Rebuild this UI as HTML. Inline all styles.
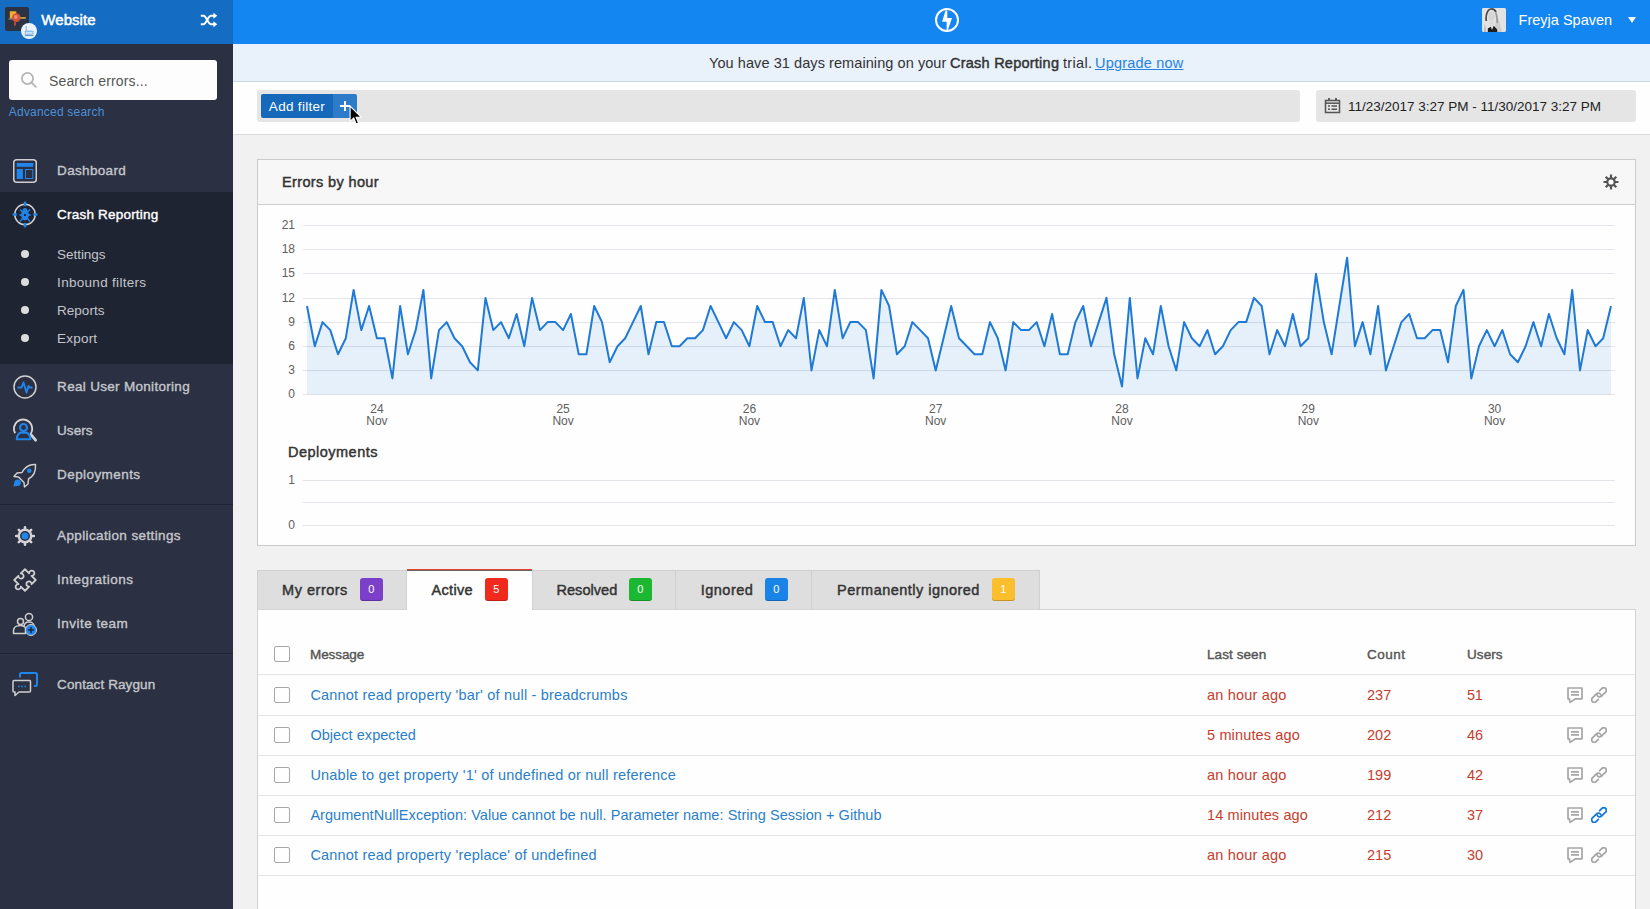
<!DOCTYPE html>
<html lang="en">
<head>
<meta charset="utf-8">
<title>Raygun - Website - Crash Reporting</title>
<style>
*{box-sizing:border-box;margin:0;padding:0}
html,body{width:1650px;height:909px;overflow:hidden}
body{font-family:"Liberation Sans",sans-serif;font-size:14px;color:#333;background:#f1f1f2;position:relative}
.abs{position:absolute}
a{text-decoration:none;color:inherit}
/* sidebar */
#side{position:absolute;left:0;top:0;width:233px;height:909px;background:#2b3042}
#sidehead{position:absolute;left:0;top:0;width:233px;height:44px;background:#146dc2}
#appicon{position:absolute;left:5px;top:7px;width:24px;height:24px;border-radius:2px;background:#2b3243;overflow:hidden}
#badge{position:absolute;left:21px;top:23px;width:16px;height:16px;border-radius:50%;background:#eaf3fb}
.appname{position:absolute;left:41px;top:10px;font-weight:normal;-webkit-text-stroke:0.5px;font-size:15px;color:#fff;line-height:20px;white-space:nowrap}
#search{position:absolute;left:9px;top:60px;width:208px;height:40px;background:#fdfdfd;border-radius:3px}
#search span{position:absolute;left:40px;top:12px;font-size:14px;line-height:18px;color:#555;white-space:nowrap}
.adv{position:absolute;left:9px;top:104px;font-size:12px;line-height:16px;color:#4a90d9;white-space:nowrap}
.mi{position:absolute;left:0;width:233px;height:44px}
.mi .t{position:absolute;left:57px;top:14px;font-size:13.5px;font-weight:normal;-webkit-text-stroke:0.38px;line-height:18px;color:#c4c6cb;white-space:nowrap}
.mi svg{position:absolute;left:12px;top:10px}
.sub{position:absolute;left:0;width:233px;height:28px}
.sub .t{position:absolute;left:57px;top:6px;font-size:13.5px;line-height:18px;color:#c3c5ca;white-space:nowrap}
.sub i{position:absolute;left:21px;top:10px;width:8px;height:8px;border-radius:50%;background:#dcdcdc}
#active{position:absolute;left:0;top:192px;width:233px;height:172px;background:#1f2433}
.sep{position:absolute;left:0;width:233px;height:2px;border-top:1px solid #1f2331;border-bottom:1px solid #2f3546}
/* top */
#top{position:absolute;left:233px;top:0;width:1417px;height:44px;background:#1486f2}
.uname{position:absolute;left:1518px;top:10px;color:#fff;font-size:14.5px;line-height:20px;white-space:nowrap}
#avatar{position:absolute;left:1482px;top:8px;width:24px;height:24px;border-radius:2px;background:#d9d9d9;overflow:hidden}
#banner{position:absolute;left:233px;top:44px;width:1417px;height:38px;background:#e9f1fb;border-bottom:1px solid #cfd6de;font-size:14.5px;line-height:39px;color:#333;white-space:nowrap}
#banner span{position:absolute;top:0}
#banner .bb{font-weight:normal;-webkit-text-stroke:0.45px}
#banner .bu{color:#2583dd;text-decoration:underline}
#fbar{position:absolute;left:233px;top:82px;width:1417px;height:53px;background:#fefefe;border-bottom:1px solid #dcdcdc}
#fbox{position:absolute;left:257px;top:90px;width:1043px;height:32px;background:#e5e5e5;border-radius:3px}
#addf{position:absolute;left:261px;top:94px;width:72px;height:24px;background:#1568ba;border-radius:2px 0 0 2px;color:#fff;font-size:13.5px;line-height:25px;text-align:center;white-space:nowrap}
#addp{position:absolute;left:333px;top:94px;width:24px;height:24px;background:#2c7cc9;border-radius:0 2px 2px 0}
#dbox{position:absolute;left:1316px;top:90px;width:320px;height:32px;background:#e5e5e5;border-radius:3px}
#dbox span{position:absolute;left:32px;top:8px;font-size:13.5px;line-height:18px;color:#222;white-space:nowrap}
/* panel */
#panel{position:absolute;left:257px;top:159px;width:1379px;height:387px;background:#fefefe;border:1px solid #cbcbcb}
#phead{position:absolute;left:0;top:0;width:1377px;height:45px;background:#f7f7f7;border-bottom:1px solid #cdcdcd}
#phead span{position:absolute;left:24px;top:13px;font-size:14.5px;font-weight:normal;-webkit-text-stroke:0.45px;line-height:18px;color:#333;white-space:nowrap}
.dep{position:absolute;left:288px;top:443px;font-size:14.5px;font-weight:normal;-webkit-text-stroke:0.45px;line-height:18px;color:#333;white-space:nowrap}
svg.chart{position:absolute;left:0;top:0;pointer-events:none}
.ax{font-family:"Liberation Sans",sans-serif;font-size:12px;fill:#606060}
/* tabs */
.tab{position:absolute;top:570px;height:40px;background:#dedede;border:1px solid #d0d0d0;border-left:none}
.tab .t{position:absolute;left:24px;top:10px;font-size:14.5px;font-weight:normal;-webkit-text-stroke:0.45px;line-height:18px;color:#333;white-space:nowrap}
.tab .b{position:absolute;top:7px;width:22.500px;height:23px;box-shadow:inset 0 -1px 0 rgba(0,0,0,.22);border-radius:3px;color:#fff;font-size:11px;line-height:23px;text-align:center}
#tabact{background:#fefefe;top:569px;height:41px;border-top:1px solid #e8432e;box-shadow:inset 0 1px 0 #666;border-bottom:none;border-right:none}
/* table */
#tbl{position:absolute;left:257px;top:609px;width:1379px;height:320px;background:#fefefe;border:1px solid #d3d3d3;border-top:1px solid #d3d3d3}
.hr{position:absolute;left:258px;width:1377px;height:1px;background:#e4e4e4}
.cb{position:absolute;left:274px;width:16px;height:16px;border:1.5px solid #a8a8a8;border-radius:2px;background:#fff}
.th{position:absolute;top:646px;font-size:13.5px;font-weight:normal;-webkit-text-stroke:0.4px;line-height:18px;color:#555;white-space:nowrap}
.msg{position:absolute;left:310px;font-size:14.5px;line-height:18px;color:#2b7ec9;white-space:nowrap}
.red{position:absolute;font-size:14.5px;line-height:18px;color:#c63d2d;white-space:nowrap}
.ic{position:absolute}
#tx1{letter-spacing:0.054px;left:41.3px}
#tx2{letter-spacing:0.151px;left:40.3px}
#tx3{letter-spacing:0.204px;left:8.8px}
#tx4{letter-spacing:0.328px;left:57.1px}
#tx5{letter-spacing:0.200px;left:57.1px}
#tx6{letter-spacing:-0.048px;left:57.1px}
#tx7{letter-spacing:0.299px;left:57.1px}
#tx8{letter-spacing:0.003px;left:57.1px}
#tx9{letter-spacing:0.195px;left:57.1px}
#tx10{letter-spacing:0.304px;left:57.1px}
#tx11{letter-spacing:0.027px;left:57.1px}
#tx12{letter-spacing:0.418px;left:57.1px}
#tx13{letter-spacing:0.374px;left:57.1px}
#tx14{letter-spacing:0.479px;left:57.1px}
#tx15{letter-spacing:0.470px;left:57.1px}
#tx16{letter-spacing:0.099px;left:57.1px}
#tx17{letter-spacing:0.000px;left:1518.6px}
#tx18{letter-spacing:0.075px;left:476.3px}
#tx19{letter-spacing:0.241px;left:717.3px}
#tx20{letter-spacing:0.316px;left:830.1px}
#tx21{letter-spacing:0.195px;left:862.6px}
#tx22{letter-spacing:0.302px}
#tx23{letter-spacing:-0.005px;left:32.4px}
#tx24{letter-spacing:0.366px;left:24.3px}
#tx25{letter-spacing:0.470px;left:288.1px}
#tx26{letter-spacing:0.507px;left:24.1px}
#tx27{letter-spacing:0.317px;left:24.5px}
#tx28{letter-spacing:0.043px;left:23.5px}
#tx29{letter-spacing:0.473px;left:24.8px}
#tx30{letter-spacing:0.473px;left:25.1px}
#tx31{letter-spacing:-0.083px;left:310.4px}
#tx32{letter-spacing:0.084px;left:1206.8px}
#tx33{letter-spacing:0.514px;left:1366.8px}
#tx34{letter-spacing:0.087px;left:1466.9px}
#tx35{letter-spacing:0.196px;left:310.4px}
#tx36{letter-spacing:0.181px;left:1206.8px}
#tx37{letter-spacing:0.032px;left:1366.8px}
#tx38{letter-spacing:-0.370px;left:1466.8px}
#tx39{letter-spacing:0.054px;left:310.4px}
#tx40{letter-spacing:0.147px;left:1206.8px}
#tx41{letter-spacing:0.032px;left:1366.8px}
#tx42{letter-spacing:-0.170px;left:1466.8px}
#tx43{letter-spacing:0.209px;left:310.4px}
#tx44{letter-spacing:0.181px;left:1206.8px}
#tx45{letter-spacing:0.032px;left:1366.8px}
#tx46{letter-spacing:-0.170px;left:1466.8px}
#tx47{letter-spacing:0.053px;left:310.4px}
#tx48{letter-spacing:0.132px;left:1206.8px}
#tx49{letter-spacing:0.032px;left:1366.8px}
#tx50{letter-spacing:-0.170px;left:1466.8px}
#tx51{letter-spacing:0.193px;left:310.4px}
#tx52{letter-spacing:0.181px;left:1206.8px}
#tx53{letter-spacing:0.032px;left:1366.8px}
#tx54{letter-spacing:-0.170px;left:1466.8px}

</style>
</head>
<body>

<!-- ============ SIDEBAR ============ -->
<div id="side">
  <div id="sidehead">
    <div id="appicon">
      <svg width="24" height="24" viewBox="0 0 24 24"><rect x="4.800" y="4.300" width="6.500" height="7" fill="#f0b32e"/><circle cx="11.300" cy="10.600" r="4.300" fill="#d5523b"/><circle cx="10.800" cy="10" r="1.900" fill="#e98d74"/><rect x="15.300" y="10.200" width="5.500" height="1.500" fill="#e3b24a"/><rect x="9" y="14.600" width="1.900" height="4" fill="#c4473a"/><rect x="3.500" y="11.500" width="4" height="1" fill="#d9c9a0" opacity=".7"/></svg>
    </div>
    <div id="badge">
      <svg width="16" height="16" viewBox="0 0 16 16"><path d="M5.200 3v5.200h5.800" fill="none" stroke="#7db4e6" stroke-width="1"/><rect x="4.200" y="8.300" width="7.800" height="3" fill="#cfe3f6" stroke="#7db4e6" stroke-width=".900"/><path d="M3.800 12.600h8.600" stroke="#4a90d9" stroke-width="1"/></svg>
    </div>
    <div id="tx1" class="fitme appname">Website</div>
    <svg class="abs" style="left:200px;top:12px" width="18" height="16" viewBox="0 0 18 16"><g fill="none" stroke="#fff" stroke-width="2"><path d="M0.800 3.800h2.800c2.600 0 4.400 8.400 7.400 8.400h3.400"/><path d="M0.800 12.200h2.800c2.600 0 4.400-8.400 7.400-8.400h3.400"/></g><path d="M13.400 0.800l3.900 3-3.900 3zM13.400 9.200l3.900 3-3.900 3z" fill="#fff"/></svg>
  </div>

  <div id="search">
    <svg class="abs" style="left:11px;top:11px" width="18" height="18" viewBox="0 0 18 18"><circle cx="7.5" cy="7.5" r="5.6" fill="none" stroke="#b5b5b5" stroke-width="1.8"/><path d="M11.6 11.6l4.2 4.2" stroke="#b5b5b5" stroke-width="1.8" stroke-linecap="round"/></svg>
    <span id="tx2" class="fitme">Search errors...</span>
  </div>
  <div id="tx3" class="fitme adv">Advanced search</div>

  <div id="active"></div>

  <div class="mi" style="top:148px">
    <svg width="26" height="26" viewBox="0 0 26 26"><rect x="1.75" y="1.75" width="22.5" height="22.5" rx="3" fill="none" stroke="#cfcfcf" stroke-width="1.5"/><rect x="4.7" y="5" width="16.6" height="3.8" fill="#2186eb"/><rect x="4.7" y="11" width="6.2" height="10" fill="#2186eb"/><rect x="13.5" y="11.5" width="7.3" height="9" fill="none" stroke="#2186eb" stroke-width="1"/></svg>
    <div id="tx4" class="t">Dashboard</div>
  </div>

  <div class="mi" style="top:192px">
    <svg width="28" height="28" viewBox="0 0 28 28" style="left:11px;top:8px"><circle cx="14" cy="14.5" r="10.2" fill="none" stroke="#cfcfcf" stroke-width="1.5"/><g fill="#2186eb"><rect x="12.8" y="1.6" width="2.4" height="4.6"/><rect x="12.8" y="22.8" width="2.4" height="4.6"/><rect x="1.6" y="13.3" width="4.2" height="2.4"/><rect x="22.2" y="13.3" width="4.2" height="2.4"/><ellipse cx="14" cy="15" rx="3.800" ry="5.400"/><circle cx="14" cy="10.300" r="2.300"/><path d="M9 9.500l2.500 2.500M19 9.500l-2.500 2.500M8.300 15h3.500M19.700 15h-3.500M9 21.500l2.500-3M19 21.500l-2.500-3" stroke="#2186eb" stroke-width="1.500"/></g><circle cx="14" cy="15" r="1.2" fill="#1f2433"/></svg>
    <div id="tx5" class="t" style="color:#fff">Crash Reporting</div>
  </div>

  <div class="sub" style="top:240px"><i></i><div id="tx6" class="t">Settings</div></div>
  <div class="sub" style="top:268px"><i></i><div id="tx7" class="t">Inbound filters</div></div>
  <div class="sub" style="top:296px"><i></i><div id="tx8" class="t">Reports</div></div>
  <div class="sub" style="top:324px"><i></i><div id="tx9" class="t">Export</div></div>

  <div class="mi" style="top:364px">
    <svg width="26" height="26" viewBox="0 0 26 26" style="left:12px;top:10px"><circle cx="13" cy="13" r="11" fill="none" stroke="#cfcfcf" stroke-width="1.5"/><path d="M5.5 13.5h4l2-5 3 10 2-6.5 1 1.500h3" fill="none" stroke="#2186eb" stroke-width="1.900" stroke-linejoin="round"/></svg>
    <div id="tx10" class="t">Real User Monitoring</div>
  </div>

  <div class="mi" style="top:408px">
    <svg width="28" height="28" viewBox="0 0 28 28" style="left:11px;top:10px"><path d="M4.080 15.300A9.200 9.200 0 1 1 19.600 16" fill="none" stroke="#d2d2d2" stroke-width="1.900"/><path d="M20.200 16.800l4.400 5.400" stroke="#d2d2d2" stroke-width="2.800" stroke-linecap="round"/><circle cx="12.500" cy="9.500" r="3.500" fill="none" stroke="#2186eb" stroke-width="2.100"/><path d="M5.700 21.200c0-4.300 2.600-6.600 4.600-6.600h4.500c2 0 4.600 2.300 4.600 6.600z" fill="none" stroke="#2186eb" stroke-width="2.100" stroke-linejoin="round"/></svg>
    <div id="tx11" class="t">Users</div>
  </div>

  <div class="mi" style="top:452px">
    <svg width="26" height="26" viewBox="0 0 26 26" style="left:12px;top:10px"><path d="M23.500 2.500c-6-.5-10.500 2.500-13.500 8l-5 .5-3 3.500 4.500.5 5.500 5.500.5 4.500 3.500-3 .5-5c5.500-3 7.500-8.500 7-14.500z" fill="none" stroke="#cfcfcf" stroke-width="1.5" stroke-linejoin="round"/><circle cx="17.300" cy="8.700" r="2.300" fill="#2186eb"/><path d="M1.300 24.600l1.300-5.300c1.200-2.200 4-2.400 5.400-.800 1.500 1.500 1.300 4.200-.900 5.200z" fill="#2186eb"/></svg>
    <div id="tx12" class="t">Deployments</div>
  </div>

  <div class="sep" style="top:504px"></div>

  <div class="mi" style="top:513px">
    <svg width="24" height="24" viewBox="-12 -12 24 24" style="left:13px;top:11px"><g stroke="#d4d4d4" stroke-width="2.600" stroke-linecap="round"><path d="M0-8.800V8.800M-8.800 0H8.800M-6.200-6.200L6.200 6.200M6.200-6.200L-6.200 6.200"/></g><circle r="6.200" fill="#2b3042" stroke="#d4d4d4" stroke-width="2.400"/><circle r="3.500" fill="#2186eb"/></svg>
    <div id="tx13" class="t">Application settings</div>
  </div>

  <div class="mi" style="top:557px">
    <svg width="28" height="28" viewBox="-14 -14 28 28" style="left:11px;top:9px"><path transform="rotate(45)" d="M-7.6,-7.6 H-1.7 A2.6,2.6 0 1 1 1.7,-7.6 H7.6 V-1.7 A2.6,2.6 0 1 0 7.6,1.7 V7.6 H1.7 A2.6,2.6 0 1 1 -1.7,7.6 H-7.6 V1.7 A2.6,2.6 0 1 0 -7.6,-1.7 Z" fill="none" stroke="#d0d0d0" stroke-width="1.800" stroke-linejoin="round"/></svg>
    <div id="tx14" class="t">Integrations</div>
  </div>

  <div class="mi" style="top:601px">
    <svg width="28" height="28" viewBox="0 0 28 28" style="left:11px;top:8px"><circle cx="18" cy="8" r="3.600" fill="none" stroke="#cfcfcf" stroke-width="1.500"/><path d="M13 22v-4c0-3 2-5 5-5s5 2 5 4" fill="none" stroke="#cfcfcf" stroke-width="1.500"/><circle cx="9.500" cy="12.500" r="3" fill="#2b3042" stroke="#cfcfcf" stroke-width="1.500"/><path d="M2.500 24.500v-3c0-3 3-5 7-5 2 0 4 1 5 2v6z" fill="#2b3042" stroke="#cfcfcf" stroke-width="1.500" stroke-linejoin="round"/><circle cx="20" cy="21" r="5.500" fill="#2186eb" stroke="#cfcfcf" stroke-width="1"/><path d="M20 18v6M17 21h6" stroke="#1f2433" stroke-width="1.500"/></svg>
    <div id="tx15" class="t">Invite team</div>
  </div>

  <div class="sep" style="top:653px"></div>

  <div class="mi" style="top:662px">
    <svg width="28" height="28" viewBox="0 0 28 28" style="left:11px;top:8px"><path d="M9 7.500v-3c0-1 .500-1.500 1.500-1.500h14c1 0 1.500.500 1.500 1.500v10c0 1-.500 1.500-1.500 1.500h-1.500" fill="none" stroke="#2186eb" stroke-width="2"/><path d="M3 10.500h15.500c.800 0 1 .500 1 1v9.500c0 .800-.500 1-1 1h-10.500l-4 3.500v-3.500h-1c-.800 0-1-.500-1-1v-9.500c0-.800.500-1 1-1z" fill="none" stroke="#cfcfcf" stroke-width="1.500" stroke-linejoin="round"/><path d="M7 16.500h1.600M10.200 16.500h1.600M13.400 16.500h1.600" stroke="#2186eb" stroke-width="1.600"/></svg>
    <div id="tx16" class="t">Contact Raygun</div>
  </div>
</div>

<!-- ============ TOP BAR ============ -->
<div id="top"></div>
<svg class="abs" style="left:934px;top:7px" width="26" height="26" viewBox="-13 -13 26 26"><circle r="11" fill="none" stroke="#fff" stroke-width="2"/><path d="M-1.500-9.600L0.300-9.600L0.300-1.900L5-1.900L0.800 10.200L-0.400 10.200L-0.400 1.800L-4.900 1.800Z" fill="#fff"/></svg>
<div id="avatar"><svg width="24" height="24" viewBox="0 0 24 24"><rect width="24" height="24" fill="#e4e3e3"/><path d="M15 6l5 18h-8z" fill="#cfcfcf"/><path d="M4.300 13c-.800-6 1-11.500 4.500-12 2.500-.300 4.300 1 5.200 3.200" fill="none" stroke="#4a4a4a" stroke-width="1.700"/><ellipse cx="9.400" cy="8.300" rx="3.300" ry="4.800" fill="#d6d6d6"/><path d="M13.800 4.500c1.200 3 1 6.500 1.700 10.500" fill="none" stroke="#9b9b9b" stroke-width="1.800"/><path d="M8 12.500h3.500l.5 6-4 1z" fill="#dcdcdc"/><path d="M5.800 24v-3.500l3-1.800 1.200 3.300 1.700-4.300 3.500 3.800v2.500z" fill="#1d1d1f"/><path d="M2.500 16c1 2 1.500 5 1.500 8h-2z" fill="#b9b9b9"/></svg></div>
<div id="tx17" class="fitme uname">Freyja Spaven</div>
<svg class="abs" style="left:1628px;top:17px" width="8" height="6" viewBox="0 0 8 6"><path d="M0 0h8l-4 6z" fill="#f4f9ff"/></svg>

<div id="banner"><span id="tx18" class="fitme" style="left:476px">You have 31 days remaining on your</span><span id="tx19" class="fitme bb" style="left:717px">Crash Reporting</span><span id="tx20" class="fitme" style="left:830px">trial.</span><span id="tx21" class="fitme bu" style="left:862px">Upgrade now</span></div>

<div id="fbar"></div>
<div id="fbox"></div>
<div id="addf"><span id="tx22" class="fitme">Add filter</span></div>
<div id="addp"><svg class="abs" style="left:6px;top:6px" width="12" height="12" viewBox="0 0 12 12"><path d="M6 1v10M1 6h10" stroke="#fff" stroke-width="2"/></svg></div>
<svg class="abs" style="left:348.500px;top:105px" width="13.200" height="20.900" viewBox="0 0 12 19"><path d="M1 1v14l3.300-3.200 2.200 5.400 2.200-.900-2.200-5.200h4.500z" fill="#000" stroke="#fff" stroke-width="1"/></svg>
<div id="dbox">
  <svg class="abs" style="left:8px;top:7px" width="17" height="17" viewBox="0 0 17 17"><path d="M1.500 3.500h14v12h-14z" fill="none" stroke="#555" stroke-width="1.500"/><path d="M1.500 6.200h14" stroke="#555" stroke-width="1.500"/><path d="M5 1v3M12 1v3" stroke="#555" stroke-width="1.800"/><path d="M4 9h2M7.500 9h5.500M4 12.300h2M7.500 12.300h5.500" stroke="#555" stroke-width="1.400"/></svg>
  <span id="tx23" class="fitme">11/23/2017 3:27 PM - 11/30/2017 3:27 PM</span>
</div>

<!-- ============ CHART PANEL ============ -->
<div id="panel">
  <div id="phead"><span id="tx24" class="fitme">Errors by hour</span></div>
</div>
<svg class="abs" style="left:1603px;top:174px" width="16" height="16" viewBox="0 0 16 16"><g stroke="#555" stroke-width="2.200"><path d="M8 0.500v15M0.500 8h15M2.700 2.700l10.600 10.600M13.300 2.700L2.700 13.300"/></g><circle cx="8" cy="8" r="4.800" fill="#555"/><circle cx="8" cy="8" r="2.600" fill="#fefefe"/></svg>
<div id="tx25" class="fitme dep">Deployments</div>
<svg class="chart" width="1650" height="909" viewBox="0 0 1650 909">
<line x1="303" x2="1615" y1="225.5" y2="225.5" stroke="#e3e5ea" stroke-width="1"/>
<text x="295" y="229.2" text-anchor="end" class="ax">21</text>
<line x1="303" x2="1615" y1="249.5" y2="249.5" stroke="#e3e5ea" stroke-width="1"/>
<text x="295" y="253.2" text-anchor="end" class="ax">18</text>
<line x1="303" x2="1615" y1="273.5" y2="273.5" stroke="#e3e5ea" stroke-width="1"/>
<text x="295" y="277.2" text-anchor="end" class="ax">15</text>
<line x1="303" x2="1615" y1="298.5" y2="298.5" stroke="#e3e5ea" stroke-width="1"/>
<text x="295" y="302.2" text-anchor="end" class="ax">12</text>
<line x1="303" x2="1615" y1="322.5" y2="322.5" stroke="#e3e5ea" stroke-width="1"/>
<text x="295" y="326.2" text-anchor="end" class="ax">9</text>
<line x1="303" x2="1615" y1="346.5" y2="346.5" stroke="#e3e5ea" stroke-width="1"/>
<text x="295" y="350.2" text-anchor="end" class="ax">6</text>
<line x1="303" x2="1615" y1="370.5" y2="370.5" stroke="#e3e5ea" stroke-width="1"/>
<text x="295" y="374.2" text-anchor="end" class="ax">3</text>
<line x1="303" x2="1615" y1="394.5" y2="394.5" stroke="#e3e5ea" stroke-width="1"/>
<text x="295" y="398.2" text-anchor="end" class="ax">0</text>

<path d="M307.0,394.5 L307.0,306.0 L314.8,346.2 L322.5,322.1 L330.3,330.1 L338.0,354.3 L345.8,338.2 L353.6,289.9 L361.3,330.1 L369.1,306.0 L376.9,338.2 L384.6,338.2 L392.4,378.4 L400.1,306.0 L407.9,354.3 L415.7,330.1 L423.4,289.9 L431.2,378.4 L439.0,330.1 L446.7,322.1 L454.5,338.2 L462.2,346.2 L470.0,362.3 L477.8,370.4 L485.5,297.9 L493.3,330.1 L501.0,322.1 L508.8,338.2 L516.6,314.0 L524.3,346.2 L532.1,297.9 L539.9,330.1 L547.6,322.1 L555.4,322.1 L563.1,330.1 L570.9,314.0 L578.7,354.3 L586.4,354.3 L594.2,306.0 L602.0,322.1 L609.7,362.3 L617.5,346.2 L625.2,338.2 L633.0,322.1 L640.8,306.0 L648.5,354.3 L656.3,322.1 L664.0,322.1 L671.8,346.2 L679.6,346.2 L687.3,338.2 L695.1,338.2 L702.9,330.1 L710.6,306.0 L718.4,322.1 L726.1,338.2 L733.9,322.1 L741.7,330.1 L749.4,346.2 L757.2,306.0 L765.0,322.1 L772.7,322.1 L780.5,346.2 L788.2,330.1 L796.0,338.2 L803.8,297.9 L811.5,370.4 L819.3,330.1 L827.0,346.2 L834.8,289.9 L842.6,338.2 L850.3,322.1 L858.1,322.1 L865.9,330.1 L873.6,378.4 L881.4,289.9 L889.1,306.0 L896.9,354.3 L904.7,346.2 L912.4,322.1 L920.2,330.1 L928.0,338.2 L935.7,370.4 L943.5,338.2 L951.2,306.0 L959.0,338.2 L966.8,346.2 L974.5,354.3 L982.3,354.3 L990.0,322.1 L997.8,338.2 L1005.6,370.4 L1013.3,322.1 L1021.1,330.1 L1028.9,330.1 L1036.6,322.1 L1044.4,346.2 L1052.1,314.0 L1059.9,354.3 L1067.7,354.3 L1075.4,322.1 L1083.2,306.0 L1091.0,346.2 L1098.7,322.1 L1106.5,297.9 L1114.2,354.3 L1122.0,386.5 L1129.8,297.9 L1137.5,378.4 L1145.3,338.2 L1153.0,354.3 L1160.8,306.0 L1168.6,346.2 L1176.3,370.4 L1184.1,322.1 L1191.9,338.2 L1199.6,346.2 L1207.4,330.1 L1215.1,354.3 L1222.9,346.2 L1230.7,330.1 L1238.4,322.1 L1246.2,322.1 L1254.0,297.9 L1261.7,306.0 L1269.5,354.3 L1277.2,330.1 L1285.0,346.2 L1292.8,314.0 L1300.5,346.2 L1308.3,338.2 L1316.0,273.8 L1323.8,322.1 L1331.6,354.3 L1339.3,306.0 L1347.1,257.7 L1354.9,346.2 L1362.6,322.1 L1370.4,354.3 L1378.1,306.0 L1385.9,370.4 L1393.7,346.2 L1401.4,322.1 L1409.2,314.0 L1417.0,338.2 L1424.7,338.2 L1432.5,330.1 L1440.2,330.1 L1448.0,362.3 L1455.8,306.0 L1463.5,289.9 L1471.3,378.4 L1479.0,346.2 L1486.8,330.1 L1494.6,346.2 L1502.3,330.1 L1510.1,354.3 L1517.9,362.3 L1525.6,346.2 L1533.4,322.1 L1541.1,346.2 L1548.9,314.0 L1556.7,338.2 L1564.4,354.3 L1572.2,289.9 L1580.0,370.4 L1587.7,330.1 L1595.5,346.2 L1603.2,338.2 L1611.0,306.0 L1611.0,394.5 Z" fill="#1f7ad6" fill-opacity="0.105"/>
<polyline points="307.0,306.0 314.8,346.2 322.5,322.1 330.3,330.1 338.0,354.3 345.8,338.2 353.6,289.9 361.3,330.1 369.1,306.0 376.9,338.2 384.6,338.2 392.4,378.4 400.1,306.0 407.9,354.3 415.7,330.1 423.4,289.9 431.2,378.4 439.0,330.1 446.7,322.1 454.5,338.2 462.2,346.2 470.0,362.3 477.8,370.4 485.5,297.9 493.3,330.1 501.0,322.1 508.8,338.2 516.6,314.0 524.3,346.2 532.1,297.9 539.9,330.1 547.6,322.1 555.4,322.1 563.1,330.1 570.9,314.0 578.7,354.3 586.4,354.3 594.2,306.0 602.0,322.1 609.7,362.3 617.5,346.2 625.2,338.2 633.0,322.1 640.8,306.0 648.5,354.3 656.3,322.1 664.0,322.1 671.8,346.2 679.6,346.2 687.3,338.2 695.1,338.2 702.9,330.1 710.6,306.0 718.4,322.1 726.1,338.2 733.9,322.1 741.7,330.1 749.4,346.2 757.2,306.0 765.0,322.1 772.7,322.1 780.5,346.2 788.2,330.1 796.0,338.2 803.8,297.9 811.5,370.4 819.3,330.1 827.0,346.2 834.8,289.9 842.6,338.2 850.3,322.1 858.1,322.1 865.9,330.1 873.6,378.4 881.4,289.9 889.1,306.0 896.9,354.3 904.7,346.2 912.4,322.1 920.2,330.1 928.0,338.2 935.7,370.4 943.5,338.2 951.2,306.0 959.0,338.2 966.8,346.2 974.5,354.3 982.3,354.3 990.0,322.1 997.8,338.2 1005.6,370.4 1013.3,322.1 1021.1,330.1 1028.9,330.1 1036.6,322.1 1044.4,346.2 1052.1,314.0 1059.9,354.3 1067.7,354.3 1075.4,322.1 1083.2,306.0 1091.0,346.2 1098.7,322.1 1106.5,297.9 1114.2,354.3 1122.0,386.5 1129.8,297.9 1137.5,378.4 1145.3,338.2 1153.0,354.3 1160.8,306.0 1168.6,346.2 1176.3,370.4 1184.1,322.1 1191.9,338.2 1199.6,346.2 1207.4,330.1 1215.1,354.3 1222.9,346.2 1230.7,330.1 1238.4,322.1 1246.2,322.1 1254.0,297.9 1261.7,306.0 1269.5,354.3 1277.2,330.1 1285.0,346.2 1292.8,314.0 1300.5,346.2 1308.3,338.2 1316.0,273.8 1323.8,322.1 1331.6,354.3 1339.3,306.0 1347.1,257.7 1354.9,346.2 1362.6,322.1 1370.4,354.3 1378.1,306.0 1385.9,370.4 1393.7,346.2 1401.4,322.1 1409.2,314.0 1417.0,338.2 1424.7,338.2 1432.5,330.1 1440.2,330.1 1448.0,362.3 1455.8,306.0 1463.5,289.9 1471.3,378.4 1479.0,346.2 1486.8,330.1 1494.6,346.2 1502.3,330.1 1510.1,354.3 1517.9,362.3 1525.6,346.2 1533.4,322.1 1541.1,346.2 1548.9,314.0 1556.7,338.2 1564.4,354.3 1572.2,289.9 1580.0,370.4 1587.7,330.1 1595.5,346.2 1603.2,338.2 1611.0,306.0" fill="none" stroke="#1f7ad6" stroke-width="2" stroke-linejoin="round"/>
<text x="376.9" y="413" text-anchor="middle" class="ax">24</text><text x="376.9" y="424.500" text-anchor="middle" class="ax">Nov</text>
<text x="563.1" y="413" text-anchor="middle" class="ax">25</text><text x="563.1" y="424.500" text-anchor="middle" class="ax">Nov</text>
<text x="749.4" y="413" text-anchor="middle" class="ax">26</text><text x="749.4" y="424.500" text-anchor="middle" class="ax">Nov</text>
<text x="935.7" y="413" text-anchor="middle" class="ax">27</text><text x="935.7" y="424.500" text-anchor="middle" class="ax">Nov</text>
<text x="1122.0" y="413" text-anchor="middle" class="ax">28</text><text x="1122.0" y="424.500" text-anchor="middle" class="ax">Nov</text>
<text x="1308.3" y="413" text-anchor="middle" class="ax">29</text><text x="1308.3" y="424.500" text-anchor="middle" class="ax">Nov</text>
<text x="1494.6" y="413" text-anchor="middle" class="ax">30</text><text x="1494.6" y="424.500" text-anchor="middle" class="ax">Nov</text>

<line x1="303" x2="1615" y1="480.5" y2="480.5" stroke="#e3e5ea"/>
<line x1="303" x2="1615" y1="502.5" y2="502.5" stroke="#e3e5ea"/>
<line x1="303" x2="1615" y1="525.5" y2="525.5" stroke="#e3e5ea"/>
<text x="295" y="484" text-anchor="end" class="ax">1</text>
<text x="295" y="529" text-anchor="end" class="ax">0</text>
</svg>

<!-- ============ TABS ============ -->
<div class="tab" style="left:257px;width:150px;border-left:1px solid #d0d0d0"><span id="tx26" class="t">My errors</span><span class="b" style="left:102px;background:#7b3fc9">0</span></div>
<div class="tab" id="tabact" style="left:407px;width:125px"><span id="tx27" class="t" style="top:11px">Active</span><span class="b" style="left:78px;top:8px;background:#f02b1d">5</span></div>
<div class="tab" style="left:532px;width:144px;border-left:1px solid #d0d0d0"><span id="tx28" class="t">Resolved</span><span class="b" style="left:96px;background:#1db832">0</span></div>
<div class="tab" style="left:676px;width:136px"><span id="tx29" class="t">Ignored</span><span class="b" style="left:89px;background:#1a83e8">0</span></div>
<div class="tab" style="left:812px;width:228px"><span id="tx30" class="t">Permanently ignored</span><span class="b" style="left:180px;background:#fbbf2d">1</span></div>

<!-- ============ TABLE ============ -->
<div id="tbl"></div>
<div class="abs" style="left:407px;top:609px;width:125px;height:1px;background:#fefefe"></div>

<div class="cb" style="top:646px"></div>
<div id="tx31" class="th" style="left:310px">Message</div>
<div id="tx32" class="th" style="left:1207px">Last seen</div>
<div id="tx33" class="th" style="left:1367px">Count</div>
<div id="tx34" class="th" style="left:1467px">Users</div>
<div class="hr" style="top:674px"></div>

<div class="cb" style="top:687px"></div>
<div id="tx35" class="msg" style="top:686px">Cannot read property 'bar' of null - breadcrumbs</div>
<div id="tx36" class="red" style="left:1207px;top:686px">an hour ago</div>
<div id="tx37" class="red" style="left:1367px;top:686px">237</div>
<div id="tx38" class="red" style="left:1467px;top:686px">51</div>
<div class="hr" style="top:715px"></div>

<div class="cb" style="top:727px"></div>
<div id="tx39" class="msg" style="top:726px">Object expected</div>
<div id="tx40" class="red" style="left:1207px;top:726px">5 minutes ago</div>
<div id="tx41" class="red" style="left:1367px;top:726px">202</div>
<div id="tx42" class="red" style="left:1467px;top:726px">46</div>
<div class="hr" style="top:755px"></div>

<div class="cb" style="top:767px"></div>
<div id="tx43" class="msg" style="top:766px">Unable to get property '1' of undefined or null reference</div>
<div id="tx44" class="red" style="left:1207px;top:766px">an hour ago</div>
<div id="tx45" class="red" style="left:1367px;top:766px">199</div>
<div id="tx46" class="red" style="left:1467px;top:766px">42</div>
<div class="hr" style="top:795px"></div>

<div class="cb" style="top:807px"></div>
<div id="tx47" class="msg" style="top:806px">ArgumentNullException: Value cannot be null. Parameter name: String Session + Github</div>
<div id="tx48" class="red" style="left:1207px;top:806px">14 minutes ago</div>
<div id="tx49" class="red" style="left:1367px;top:806px">212</div>
<div id="tx50" class="red" style="left:1467px;top:806px">37</div>
<div class="hr" style="top:835px"></div>

<div class="cb" style="top:847px"></div>
<div id="tx51" class="msg" style="top:846px">Cannot read property 'replace' of undefined</div>
<div id="tx52" class="red" style="left:1207px;top:846px">an hour ago</div>
<div id="tx53" class="red" style="left:1367px;top:846px">215</div>
<div id="tx54" class="red" style="left:1467px;top:846px">30</div>
<div class="hr" style="top:875px"></div>

<!-- row icons -->
<svg class="ic" style="left:1566px;top:686px" width="18" height="18" viewBox="0 0 18 18"><path d="M2 2H16V12.800H9.500L4 16.400L3.400 12.800H2Z" fill="none" stroke="#a6a6a6" stroke-width="1.700" stroke-linejoin="round"/><path d="M5 5.900h8M5 8.900h8" stroke="#a6a6a6" stroke-width="1.700"/></svg><svg class="ic" style="left:1591px;top:687px" width="16" height="16" viewBox="0 0 16 16"><g fill="none" stroke="#a6a6a6" stroke-width="1.800" stroke-linecap="round"><path d="M0.3,2.55 H-2.9 A2.55,2.55 0 0 1 -2.9,-2.55 H2.9 A2.55,2.55 0 0 1 5.21,1.08" transform="translate(5.300 10.700) rotate(-45)"/><path d="M0.3,2.55 H-2.9 A2.55,2.55 0 0 1 -2.9,-2.55 H2.9 A2.55,2.55 0 0 1 5.21,1.08" transform="translate(10.700 5.300) rotate(135)"/></g></svg>
<svg class="ic" style="left:1566px;top:726px" width="18" height="18" viewBox="0 0 18 18"><path d="M2 2H16V12.800H9.500L4 16.400L3.400 12.800H2Z" fill="none" stroke="#a6a6a6" stroke-width="1.700" stroke-linejoin="round"/><path d="M5 5.900h8M5 8.900h8" stroke="#a6a6a6" stroke-width="1.700"/></svg><svg class="ic" style="left:1591px;top:727px" width="16" height="16" viewBox="0 0 16 16"><g fill="none" stroke="#a6a6a6" stroke-width="1.800" stroke-linecap="round"><path d="M0.3,2.55 H-2.9 A2.55,2.55 0 0 1 -2.9,-2.55 H2.9 A2.55,2.55 0 0 1 5.21,1.08" transform="translate(5.300 10.700) rotate(-45)"/><path d="M0.3,2.55 H-2.9 A2.55,2.55 0 0 1 -2.9,-2.55 H2.9 A2.55,2.55 0 0 1 5.21,1.08" transform="translate(10.700 5.300) rotate(135)"/></g></svg>
<svg class="ic" style="left:1566px;top:766px" width="18" height="18" viewBox="0 0 18 18"><path d="M2 2H16V12.800H9.500L4 16.400L3.400 12.800H2Z" fill="none" stroke="#a6a6a6" stroke-width="1.700" stroke-linejoin="round"/><path d="M5 5.900h8M5 8.900h8" stroke="#a6a6a6" stroke-width="1.700"/></svg><svg class="ic" style="left:1591px;top:767px" width="16" height="16" viewBox="0 0 16 16"><g fill="none" stroke="#a6a6a6" stroke-width="1.800" stroke-linecap="round"><path d="M0.3,2.55 H-2.9 A2.55,2.55 0 0 1 -2.9,-2.55 H2.9 A2.55,2.55 0 0 1 5.21,1.08" transform="translate(5.300 10.700) rotate(-45)"/><path d="M0.3,2.55 H-2.9 A2.55,2.55 0 0 1 -2.9,-2.55 H2.9 A2.55,2.55 0 0 1 5.21,1.08" transform="translate(10.700 5.300) rotate(135)"/></g></svg>
<svg class="ic" style="left:1566px;top:806px" width="18" height="18" viewBox="0 0 18 18"><path d="M2 2H16V12.800H9.500L4 16.400L3.400 12.800H2Z" fill="none" stroke="#a6a6a6" stroke-width="1.700" stroke-linejoin="round"/><path d="M5 5.900h8M5 8.900h8" stroke="#a6a6a6" stroke-width="1.700"/></svg><svg class="ic" style="left:1591px;top:807px" width="16" height="16" viewBox="0 0 16 16"><g fill="none" stroke="#1478e0" stroke-width="1.800" stroke-linecap="round"><path d="M0.3,2.55 H-2.9 A2.55,2.55 0 0 1 -2.9,-2.55 H2.9 A2.55,2.55 0 0 1 5.21,1.08" transform="translate(5.300 10.700) rotate(-45)"/><path d="M0.3,2.55 H-2.9 A2.55,2.55 0 0 1 -2.9,-2.55 H2.9 A2.55,2.55 0 0 1 5.21,1.08" transform="translate(10.700 5.300) rotate(135)"/></g></svg>
<svg class="ic" style="left:1566px;top:846px" width="18" height="18" viewBox="0 0 18 18"><path d="M2 2H16V12.800H9.500L4 16.400L3.400 12.800H2Z" fill="none" stroke="#a6a6a6" stroke-width="1.700" stroke-linejoin="round"/><path d="M5 5.900h8M5 8.900h8" stroke="#a6a6a6" stroke-width="1.700"/></svg><svg class="ic" style="left:1591px;top:847px" width="16" height="16" viewBox="0 0 16 16"><g fill="none" stroke="#a6a6a6" stroke-width="1.800" stroke-linecap="round"><path d="M0.3,2.55 H-2.9 A2.55,2.55 0 0 1 -2.9,-2.55 H2.9 A2.55,2.55 0 0 1 5.21,1.08" transform="translate(5.300 10.700) rotate(-45)"/><path d="M0.3,2.55 H-2.9 A2.55,2.55 0 0 1 -2.9,-2.55 H2.9 A2.55,2.55 0 0 1 5.21,1.08" transform="translate(10.700 5.300) rotate(135)"/></g></svg>


</body>
</html>
